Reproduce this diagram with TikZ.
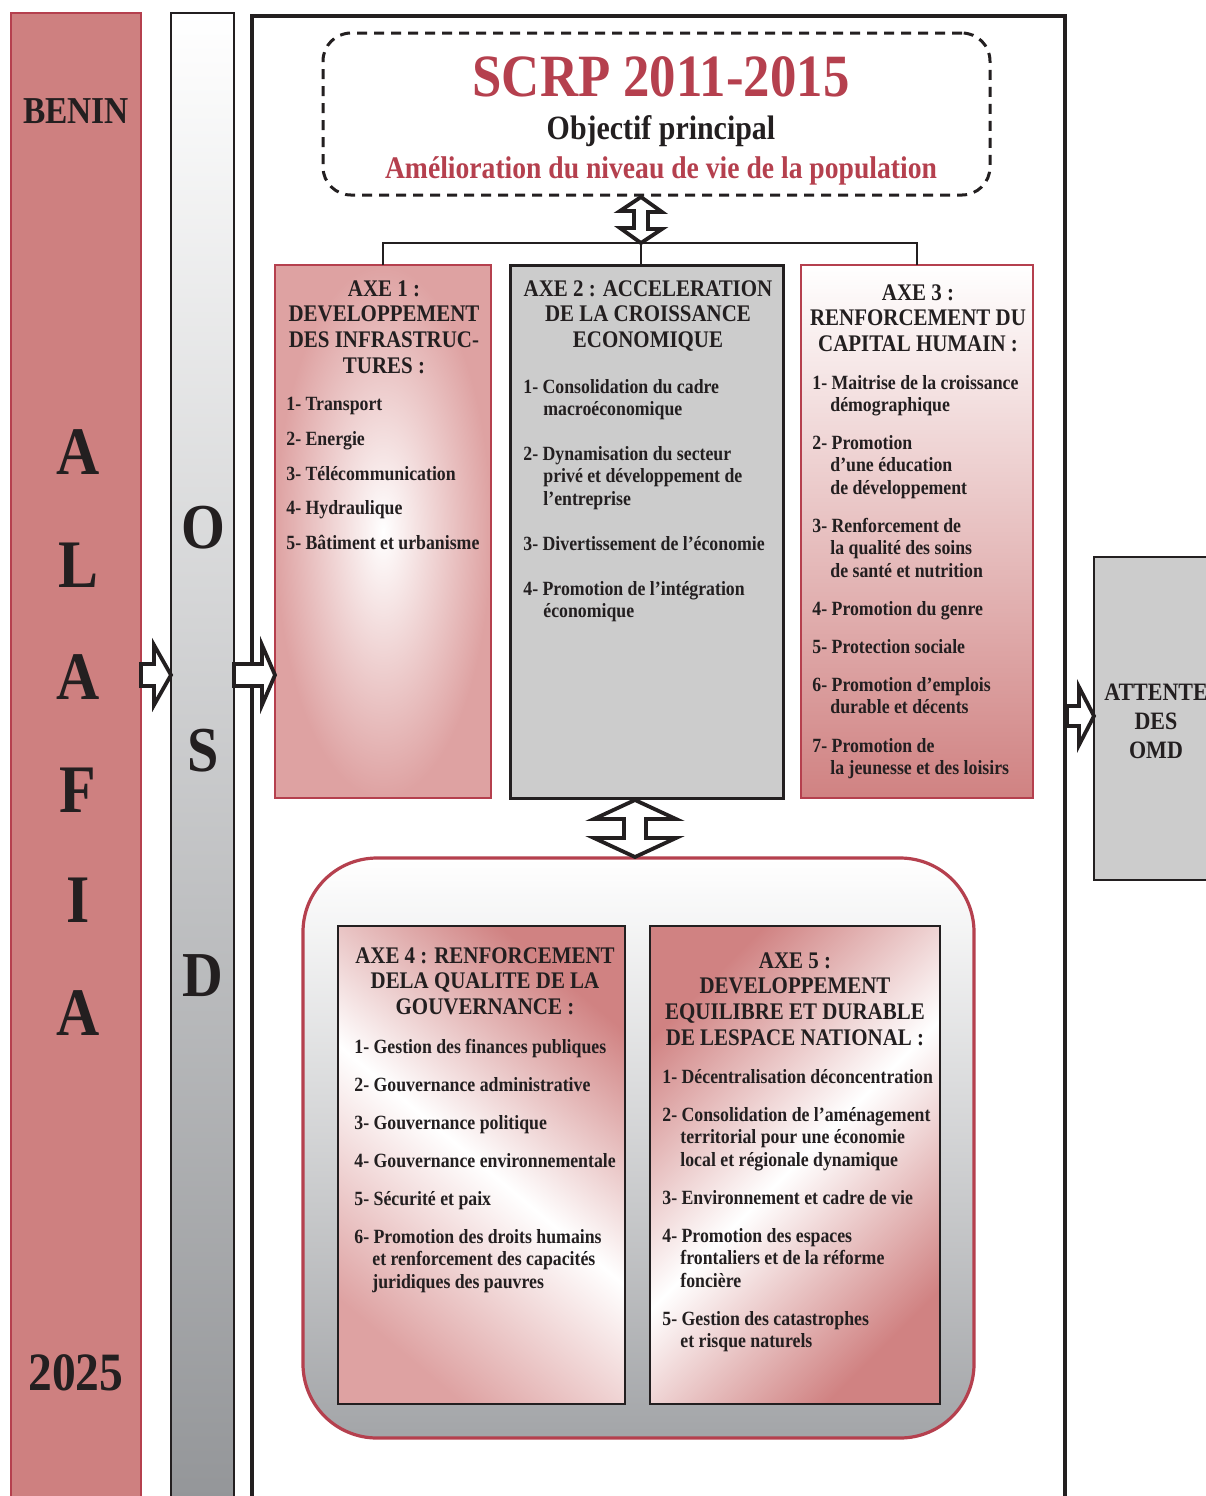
\documentclass[tikz,border=0pt]{standalone}
\usepackage{fontspec}
\setmainfont{Liberation Serif}[FakeStretch=0.88]
\usetikzlibrary{calc}
\definecolor{redline}{RGB}{181,64,78}
\definecolor{beninfill}{RGB}{206,128,128}
\definecolor{ink}{RGB}{35,31,32}
\definecolor{boxgray}{RGB}{204,204,204}
\definecolor{osdgray}{RGB}{147,149,152}
\definecolor{contgray}{RGB}{163,165,168}
\definecolor{pinkA}{RGB}{222,162,162}
\definecolor{pinkB}{RGB}{208,130,130}
\newcommand\itemlines[1]{\parbox[t]{220pt}{\raggedright #1}}
\newcommand\titlelines[1]{\parbox[t]{150pt}{\centering #1}}
\begin{document}
\begin{tikzpicture}[x=0.5pt,y=-0.5pt,
  every node/.style={text=ink},
  sz/.style 2 args={minimum width={#1*0.5pt},minimum height={#2*0.5pt},inner sep=0pt,outer sep=0pt},
  ttl/.style={font=\fontsize{11.9}{12.85}\selectfont\bfseries, inner sep=0pt, anchor=base},
  itm/.style={font=\fontsize{10.1}{11.25}\selectfont\bfseries, inner sep=0pt, anchor=base west},
  big/.style={font=\fontsize{34}{34}\selectfont\bfseries, inner sep=0pt, anchor=base},
  osdletter/.style={font=\fontsize{32}{32}\selectfont\bfseries, inner sep=0pt, anchor=base},
  hollow/.style={fill=white, draw=ink, line width=1.9pt, line join=miter},
  conn/.style={draw=ink, line width=1.2pt},
]
\useasboundingbox (0,0) rectangle (1206,1496);
\fill[white] (0,0) rectangle (1206,1496);
\clip (0,0) rectangle (1206,1496);

% columns and frames
\node[sz={130}{1500}, draw=redline, line width=1.2pt, fill=beninfill] (benin) at (76,763) {};
\node[sz={63}{1500}, draw=ink, line width=1.2pt, top color=white, bottom color=osdgray] (osd) at (202.5,763) {};
\node[sz={813}{1500}, draw=ink, line width=2pt] (main) at (658.5,766) {};
\node[sz={667}{162}, draw=ink, line width=1.5pt, dash pattern=on 5pt off 3.5pt, rounded corners=14pt] (obj) at (656.5,114) {};

% axes 1-3
\node[sz={216}{533}, draw=redline, line width=1.3pt, inner color=white, outer color=pinkA] (axe1) at (383,531.5) {};
\node[sz={273}{533}, draw=ink, line width=1.5pt, fill=boxgray] (axe2) at (646.5,531.5) {};
\node[sz={232}{533}, draw=redline, line width=1.3pt, top color=white, bottom color=pinkB] (axe3) at (917,531.5) {};

% bottom container
\node[sz={671}{580}, draw=redline, line width=1.6pt, rounded corners=37pt, top color=white, bottom color=contgray] (cont) at (638.5,1148) {};
\node[sz={287}{478}, draw=ink, line width=1.3pt, top color=pinkB, bottom color=pinkA, middle color=white, shading angle=-40] (axe4) at (481.5,1165) {};
\node[sz={290}{478}, draw=ink, line width=1.3pt, top color=pinkB, bottom color=pinkB, middle color=white, shading angle=45] (axe5) at (795,1165) {};

% OMD box
\node[sz={131}{323}, draw=ink, line width=1.3pt, fill=boxgray] (omd) at (1159.5,718.5) {};

% tree connectors
\coordinate (hub) at (641,243);
\coordinate (dtop) at (hub |- obj.south);
\draw[conn] (axe1.north) |- (hub) -| (axe3.north);
\draw[conn] (hub) -- (hub |- axe2.north);
\draw[hollow] (dtop) ++(0,2) -- ++(-21,14) -- ++(14,0) -- ++(0,17) -- ++(-14,0) -- (hub) -- ++(21,-14) -- ++(-14,0) -- ++(0,-17) -- ++(14,0) -- cycle;

% middle double arrow
\coordinate (mt) at (635,800);
\coordinate (mb) at (635,857);
\draw[hollow] (mt) -- ++(-41,19) -- ++(30,0) -- ++(0,19) -- ++(-30,0) -- (mb) -- ++(41,-19) -- ++(-30,0) -- ++(0,-19) -- ++(30,0) -- cycle;

% block arrows
\coordinate (h1) at (benin.east |- 0,675);
\draw[hollow] (h1) ++(0,-11) -- ++(13,0) -- ++(0,-19) -- (osd.west |- h1) -- ++(-17,30) -- ++(0,-19) -- ++(-13,0) -- cycle;
\coordinate (h2) at (osd.east |- 0,675);
\draw[hollow] (h2) ++(0,-11) -- ++(28,0) -- ++(0,-19) -- (axe1.west |- h2) -- ++(-13,30) -- ++(0,-19) -- ++(-28,0) -- cycle;
\coordinate (h3) at ($(main.east |- 0,716)+(2,0)$);
\draw[hollow] (h3) ++(0,-10) -- ++(12,0) -- ++(0,-19) -- (omd.west |- h3) -- ++(-15,29) -- ++(0,-19) -- ++(-12,0) -- cycle;

% left column texts
\node[font=\fontsize{19}{19}\selectfont\bfseries, inner sep=0pt, anchor=base] (tbenin) at (76,123) {BENIN};
\foreach \ch/\yy [count=\i] in {A/474, L/587, A/699, F/812, I/922, A/1035}
  \node[big] (alafia\i) at (78,\yy) {\ch};
\node[font=\fontsize{27}{27}\selectfont\bfseries, inner sep=0pt, anchor=base] (t2025) at (76,1390) {2025};
\node[osdletter] (osdO) at (203,548) {O};
\node[osdletter] (osdS) at (203,771) {S};
\node[osdletter] (osdD) at (203,996) {D};

% objective
\node[font=\fontsize{30}{30}\selectfont\bfseries, text=redline, inner sep=0pt, anchor=base] (scrp) at (661,96) {SCRP 2011-2015};
\node[font=\fontsize{17}{17}\selectfont\bfseries, inner sep=0pt, anchor=base] (objp) at (661,139) {Objectif principal};
\node[font=\fontsize{15.7}{16}\selectfont\bfseries, text=redline, inner sep=0pt, anchor=base] (amel) at (661,178) {Amélioration du niveau de vie de la population};

% OMD text
\node[font=\fontsize{12.5}{14.5}\selectfont\bfseries, inner sep=0pt, anchor=base] (tomd) at (1156,700) {\parbox[t]{60pt}{\centering ATTENTE\\DES\\OMD}};

% Axe 1
\node[ttl] (t1) at (384,296) {\titlelines{AXE 1 :\\DEVELOPPEMENT\\DES INFRASTRUC-\\TURES :}};
\node[itm] (a1i1) at (286,410) {1- Transport};
\node[itm] (a1i2) at (286,445) {2- Energie};
\node[itm] (a1i3) at (286,480) {3- Télécommunication};
\node[itm] (a1i4) at (286,514) {4- Hydraulique};
\node[itm] (a1i5) at (286,549) {5- Bâtiment et urbanisme};

% Axe 2
\node[ttl] (t2) at (648,296) {\titlelines{AXE 2 : ACCELERATION\\DE LA CROISSANCE\\ECONOMIQUE}};
\node[itm] (a2i1) at (523,393) {\itemlines{1- Consolidation du cadre\\\hspace*{10pt}macroéconomique}};
\node[itm] (a2i2) at (523,460) {\itemlines{2- Dynamisation du secteur\\\hspace*{10pt}privé et développement de\\\hspace*{10pt}l’entreprise}};
\node[itm] (a2i3) at (523,550) {3- Divertissement de l’économie};
\node[itm] (a2i4) at (523,595) {\itemlines{4- Promotion de l’intégration\\\hspace*{10pt}économique}};

% Axe 3
\node[ttl] (t3) at (918,300) {\titlelines{AXE 3 :\\RENFORCEMENT DU\\CAPITAL HUMAIN :}};
\node[itm] (a3i1) at (812,389) {\itemlines{1- Maitrise de la croissance\\\hspace*{9pt}démographique}};
\node[itm] (a3i2) at (812,449) {\itemlines{2- Promotion\\\hspace*{9pt}d’une éducation\\\hspace*{9pt}de développement}};
\node[itm] (a3i3) at (812,532) {\itemlines{3- Renforcement de\\\hspace*{9pt}la qualité des soins\\\hspace*{9pt}de santé et nutrition}};
\node[itm] (a3i4) at (812,615) {4- Promotion du genre};
\node[itm] (a3i5) at (812,653) {5- Protection sociale};
\node[itm] (a3i6) at (812,691) {\itemlines{6- Promotion d’emplois\\\hspace*{9pt}durable et décents}};
\node[itm] (a3i7) at (812,752) {\itemlines{7- Promotion de\\\hspace*{9pt}la jeunesse et des loisirs}};

% Axe 4
\node[ttl] (t4) at (485,963) {\titlelines{AXE 4 : RENFORCEMENT\\DELA QUALITE DE LA\\GOUVERNANCE :}};
\node[itm] (a4i1) at (354,1053) {1- Gestion des finances publiques};
\node[itm] (a4i2) at (354,1091) {2- Gouvernance administrative};
\node[itm] (a4i3) at (354,1129) {3- Gouvernance politique};
\node[itm] (a4i4) at (354,1167) {4- Gouvernance environnementale};
\node[itm] (a4i5) at (354,1205) {5- Sécurité et paix};
\node[itm] (a4i6) at (354,1243) {\itemlines{6- Promotion des droits humains\\\hspace*{9pt}et renforcement des capacités\\\hspace*{9pt}juridiques des pauvres}};

% Axe 5
\node[ttl] (t5) at (795,968) {\titlelines{AXE 5 :\\DEVELOPPEMENT\\EQUILIBRE ET DURABLE\\DE LESPACE NATIONAL :}};
\node[itm] (a5i1) at (662,1083) {1- Décentralisation déconcentration};
\node[itm] (a5i2) at (662,1121) {\itemlines{2- Consolidation de l’aménagement\\\hspace*{9pt}territorial pour une économie\\\hspace*{9pt}local et régionale dynamique}};
\node[itm] (a5i3) at (662,1204) {3- Environnement et cadre de vie};
\node[itm] (a5i4) at (662,1242) {\itemlines{4- Promotion des espaces\\\hspace*{9pt}frontaliers et de la réforme\\\hspace*{9pt}foncière}};
\node[itm] (a5i5) at (662,1325) {\itemlines{5- Gestion des catastrophes\\\hspace*{9pt}et risque naturels}};
\end{tikzpicture}
\end{document}
